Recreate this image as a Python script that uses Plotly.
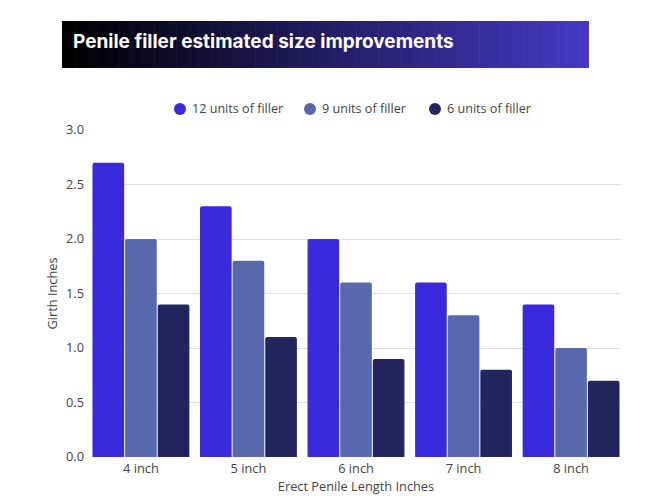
import plotly.graph_objects as go

categories = ["4 inch", "5 inch", "6 inch", "7 inch", "8 inch"]
units12 = [2.7, 2.3, 2.0, 1.6, 1.4]
units9 = [2.0, 1.8, 1.6, 1.3, 1.0]
units6 = [1.4, 1.1, 0.9, 0.8, 0.7]
series_names = ["12 units of filler", "9 units of filler", "6 units of filler"]
series_colors = ["#3a2ade", "#5868ac", "#23255f"]
title_text = "Penile filler estimated size improvements"

W, H = 647, 496
L, R, T, B = 92, 27, 130, 39
PW, PH = W - L - R, H - T - B

def px_x(p):
    return (p - L) / PW

def px_y(p):
    return (H - B - p) / PH

fig = go.Figure()
for name, vals, col in zip(series_names, [units12, units9, units6], series_colors):
    fig.add_trace(go.Bar(x=categories, y=vals, name=name, marker_color=col,
                         marker_line_width=0, showlegend=False))

# gradient banner built from thin strips
x0, x1, y0, y1 = 62, 589, 21, 68
c0 = (0, 0, 0)
c1 = (0x46, 0x38, 0xc4)
n = 120
shapes = []
for i in range(n):
    t = i / (n - 1)
    c = tuple(int(round(a + (b - a) * t)) for a, b in zip(c0, c1))
    xa = x0 + (x1 - x0) * i / n
    xb = x0 + (x1 - x0) * (i + 1) / n + 0.6
    shapes.append(dict(type="rect", xref="paper", yref="paper",
                       x0=px_x(xa), x1=px_x(min(xb, x1)), y0=px_y(y1), y1=px_y(y0),
                       fillcolor="rgb(%d,%d,%d)" % c, line_width=0, layer="above"))

annotations = [dict(text="<b>" + title_text + "</b>", xref="paper", yref="paper",
                    x=px_x(71), y=px_y(42), xanchor="left", yanchor="middle",
                    showarrow=False, font=dict(family="Inter", size=19, color="white"))]

# custom legend with circle markers
legend_marker_x = [180, 310, 435]
legend_y = 109
r = 6
for name, col, mx in zip(series_names, series_colors, legend_marker_x):
    shapes.append(dict(type="circle", xref="paper", yref="paper",
                       x0=px_x(mx - r), x1=px_x(mx + r), y0=px_y(legend_y + r), y1=px_y(legend_y - r),
                       fillcolor=col, line_width=0))
    annotations.append(dict(text=name, xref="paper", yref="paper",
                            x=px_x(mx + 10), y=px_y(legend_y), xanchor="left", yanchor="middle",
                            showarrow=False, font=dict(size=12.6, color="#444444")))

gap = 0.09
fig.update_layout(
    width=W, height=H,
    margin=dict(l=L, r=R, t=T, b=B, autoexpand=False),
    paper_bgcolor="white", plot_bgcolor="white",
    barmode="group", bargap=gap, bargroupgap=0.03,
    barcornerradius=2,
    font=dict(family="Open Sans", color="#444444", size=12.8),
    shapes=shapes,
    annotations=annotations,
    showlegend=False,
    xaxis=dict(range=[-0.5 + gap / 2, 4.5 - gap / 2], showgrid=False, showline=False,
               automargin=False, ticks="", ticklabelstandoff=2,
               tickfont=dict(size=12.8, color="#444444"),
               title=dict(text="Erect Penile Length Inches", font=dict(size=12.8, color="#444444"), standoff=5)),
    yaxis=dict(range=[0, 3.0], dtick=0.5, tickformat=".1f", showgrid=True,
               automargin=False,
               gridcolor="#dedede", gridwidth=1, zeroline=False, ticks="",
               ticklabelstandoff=7,
               tickfont=dict(size=12.8, color="#444444"),
               title=dict(text="Girth Inches", font=dict(size=12.8, color="#444444"), standoff=5)),
)

fig.write_html("out.html")
